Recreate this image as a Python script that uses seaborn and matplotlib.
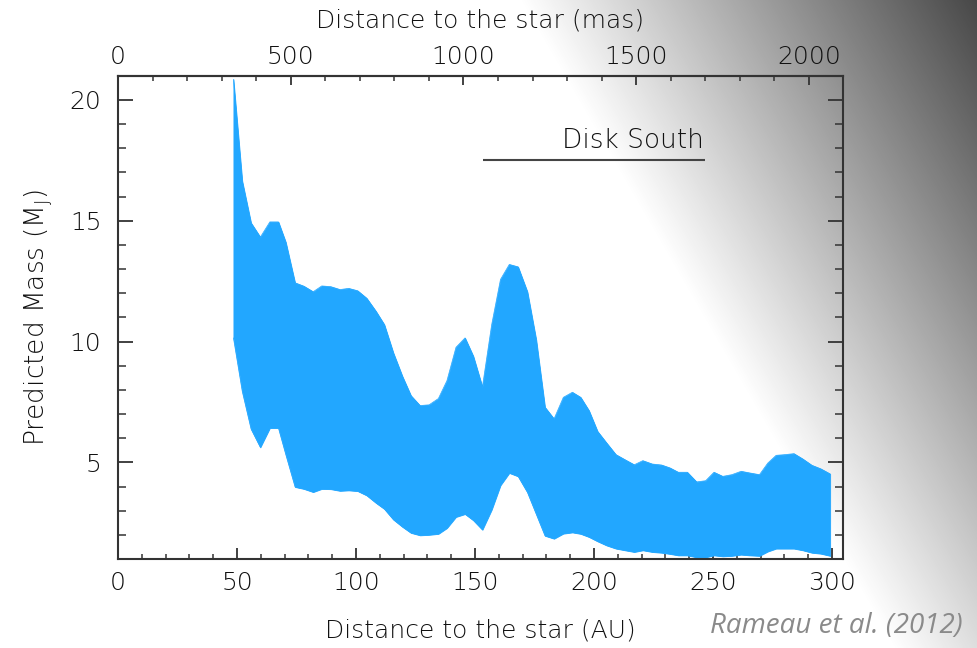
import numpy as np
import pandas as pd
import matplotlib
matplotlib.use("Agg")
import matplotlib.pyplot as plt
import seaborn as sns
from matplotlib.ticker import MultipleLocator

# ---------------- data ----------------
distance_au = [48.5, 52.2, 55.9, 59.8, 63.8, 67.4, 70.5, 74.4, 78.1, 82.0,
               85.6, 89.4, 93.3, 96.9, 100.7, 104.5, 108.4, 111.9, 115.7, 119.5,
               123.1, 126.9, 130.7, 134.6, 138.2, 142.0, 145.8, 149.3, 153.1, 157.0,
               160.7, 164.4, 168.1, 172.0, 175.7, 179.4, 183.2, 187.1, 190.9, 194.4,
               197.9, 201.5, 205.3, 209.2, 213.0, 216.9, 220.5, 224.5, 228.4, 231.9,
               235.4, 239.2, 243.1, 246.9, 250.4, 254.1, 257.9, 261.8, 265.5, 269.5,
               273.0, 276.5, 280.3, 284.0, 287.7, 291.5, 295.3, 299.2]
mass_upper = [20.85, 16.64, 14.91, 14.32, 14.95, 14.95, 14.11, 12.43, 12.29, 12.06,
              12.30, 12.27, 12.15, 12.20, 12.10, 11.79, 11.25, 10.70, 9.53, 8.56,
              7.76, 7.35, 7.38, 7.64, 8.38, 9.76, 10.15, 9.39, 8.12, 10.70,
              12.57, 13.19, 13.09, 12.06, 10.08, 7.28, 6.80, 7.69, 7.90, 7.69,
              7.14, 6.28, 5.80, 5.32, 5.11, 4.90, 5.07, 4.93, 4.89, 4.77,
              4.59, 4.59, 4.19, 4.24, 4.59, 4.42, 4.49, 4.63, 4.56, 4.49,
              4.97, 5.29, 5.32, 5.36, 5.14, 4.88, 4.73, 4.52]
mass_lower = [10.15, 7.94, 6.38, 5.62, 6.42, 6.42, 5.32, 3.98, 3.90, 3.77,
              3.90, 3.89, 3.82, 3.84, 3.81, 3.63, 3.32, 3.07, 2.63, 2.33,
              2.08, 1.98, 2.00, 2.04, 2.28, 2.74, 2.86, 2.60, 2.21, 3.04,
              4.05, 4.56, 4.42, 3.76, 2.86, 1.96, 1.84, 2.05, 2.10, 2.04,
              1.91, 1.73, 1.56, 1.43, 1.36, 1.29, 1.36, 1.29, 1.26, 1.21,
              1.15, 1.15, 1.07, 1.07, 1.15, 1.11, 1.13, 1.18, 1.15, 1.13,
              1.31, 1.43, 1.43, 1.43, 1.36, 1.26, 1.22, 1.13]
x_ticks_au = [0, 50, 100, 150, 200, 250, 300]
y_ticks = [5, 10, 15, 20]
mas_ticks = [0, 500, 1000, 1500, 2000]
MAS_PER_AU = 6.89
region_label = "Disk South"
credit_label = "Rameau et al. (2012)"

FILL = "#22A7FF"
AXC = "#333333"
TXT = "#111111"

sns.set_theme(style="ticks")
plt.rcParams["font.family"] = ["DejaVu Sans"]
plt.rcParams["font.weight"] = "light"
plt.rcParams["axes.labelweight"] = "light"
plt.rcParams["axes.linewidth"] = 1.5
FS = 18

df = pd.DataFrame({"distance": distance_au, "upper": mass_upper, "lower": mass_lower})

fig = plt.figure(figsize=(9.78, 6.48), dpi=100)
fig.patch.set_facecolor("white")

# diagonal gray gradient background (light at lower-left, dark at top-right)
bg = fig.add_axes([0, 0, 1, 1], zorder=-10)
H, W = 648, 978
yy, xx = np.mgrid[0:H, 0:W]
s = 0.866 * xx - 0.5 * yy
v = np.clip(1 - 0.72 * (s - 450) / 397, 0.28, 1.0)
bg.imshow(v, cmap="gray", vmin=0, vmax=1, aspect="auto", interpolation="bilinear")
bg.axis("off")

ax = fig.add_axes([118 / 978, 1 - 559 / 648, 725 / 978, (559 - 75.7) / 648])
ax.patch.set_alpha(0)

ax.fill_between(df["distance"], df["lower"], df["upper"], color=FILL, lw=0.6,
                edgecolor=FILL)
sns.lineplot(data=df, x="distance", y="upper", ax=ax, color=FILL, lw=0.5)
sns.lineplot(data=df, x="distance", y="lower", ax=ax, color=FILL, lw=0.5)

ax.set_xlim(0, 304.6)
ax.set_ylim(1, 21)
ax.set_xticks(x_ticks_au)
ax.set_yticks(y_ticks)
ax.xaxis.set_minor_locator(MultipleLocator(10))
ax.yaxis.set_minor_locator(MultipleLocator(1))

for sp in ax.spines.values():
    sp.set_color(AXC)
    sp.set_linewidth(1.5)

ax.tick_params(axis="x", which="major", direction="in", length=8, width=1.3,
               color=AXC, labelcolor=TXT, labelsize=FS, pad=9, top=False)
ax.tick_params(axis="x", which="minor", direction="in", length=3.3, width=1.1,
               color=AXC, top=False)
ax.tick_params(axis="y", which="major", direction="in", length=11, width=1.3,
               color=AXC, labelcolor=TXT, labelsize=FS, pad=12, left=True, right=True)
ax.tick_params(axis="y", which="minor", direction="in", length=5.5, width=1.1,
               color=AXC, left=True, right=True)

ax.set_xlabel("Distance to the star (AU)", fontsize=FS, color=TXT)
ax.xaxis.label.set_va("center")
ax.xaxis.set_label_coords(0.5, -0.147)
ax.set_ylabel(r"Predicted Mass (M$_\mathregular{J}$)", fontsize=19, color=TXT)
ax.yaxis.label.set_va("center")
ax.yaxis.set_label_coords(-0.110, 0.5)

secax = ax.secondary_xaxis("top", functions=(lambda a: a * MAS_PER_AU,
                                             lambda m: m / MAS_PER_AU))
secax.set_xticks(mas_ticks)
secax.xaxis.set_minor_locator(MultipleLocator(100))
secax.tick_params(axis="x", which="major", direction="in", length=6.5, width=1.3,
                  color=AXC, labelcolor=TXT, labelsize=FS, pad=5)
secax.tick_params(axis="x", which="minor", direction="in", length=3.6, width=1.1,
                  color=AXC)
secax.spines["top"].set_color(AXC)
secax.spines["top"].set_linewidth(1.5)
ax.text(0.5, 1.115, "Distance to the star (mas)", transform=ax.transAxes,
        ha="center", va="center", fontsize=FS, color=TXT)

ax.hlines(17.53, 153.4, 246.6, color="#444444", lw=1.5)
ax.text(246.0, 18.3, region_label, ha="right", va="center", fontsize=19, color=TXT)

fig.text(710 / 978, 1 - 626 / 648, credit_label, ha="left", va="center",
         style="italic", color="#8a8a8a", fontsize=20,
         family=["Open Sans", "DejaVu Sans"], weight="normal")

fig.savefig("out.png", dpi=100)
